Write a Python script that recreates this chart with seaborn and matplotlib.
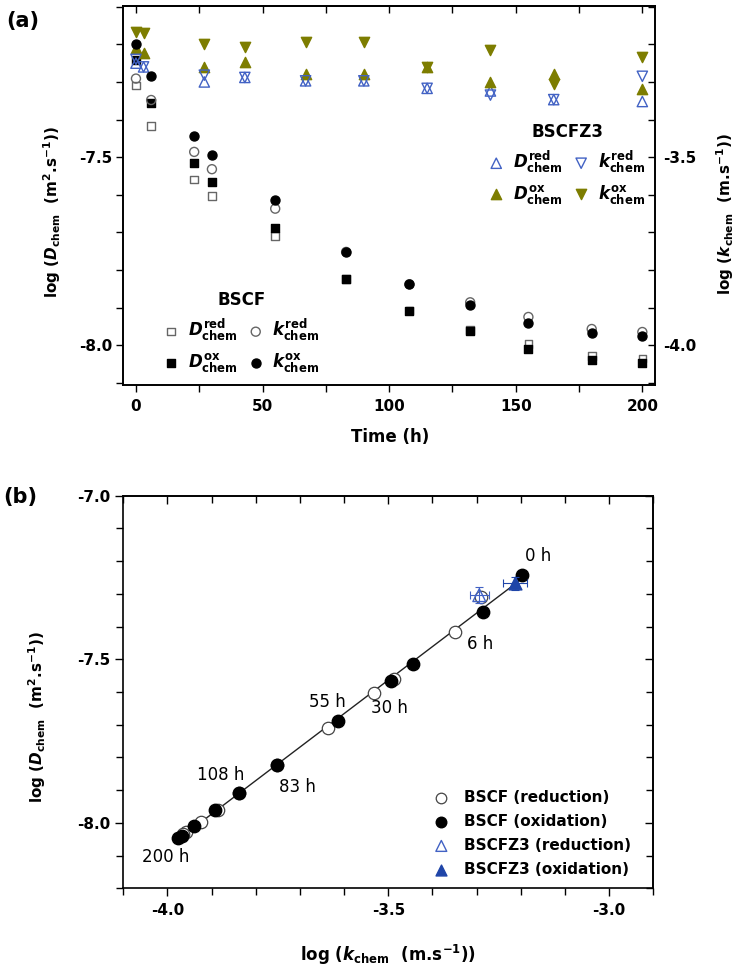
import numpy as np
import pandas as pd
import matplotlib
matplotlib.use("Agg")
import matplotlib.pyplot as plt
import seaborn as sns
from matplotlib.ticker import MultipleLocator, FormatStrFormatter, NullFormatter

# ---------------- data ----------------
bscf_time = [0, 6, 23, 30, 55, 83, 108, 132, 155, 180, 200]
bscf_D_red = [-7.309, -7.417, -7.559, -7.604, -7.709, -7.824, -7.908, -7.960, -7.997, -8.029, -8.035]
bscf_D_ox = [-7.242, -7.357, -7.515, -7.567, -7.688, -7.824, -7.910, -7.962, -8.011, -8.040, -8.047]
bscf_k_red = [-3.291, -3.348, -3.486, -3.532, -3.637, -3.752, -3.838, -3.886, -3.925, -3.957, -3.965]
bscf_k_ox = [-3.198, -3.285, -3.443, -3.495, -3.614, -3.752, -3.838, -3.892, -3.941, -3.968, -3.976]

bscfz3_time = [0, 3, 27, 43, 67, 90, 115, 140, 165, 200]
bscfz3_D_red = [-7.250, -7.260, -7.300, -7.288, -7.297, -7.297, -7.317, -7.324, -7.347, -7.352]
bscfz3_k_red = [-3.240, -3.260, -3.282, -3.288, -3.297, -3.297, -3.317, -3.335, -3.347, -3.285]
bscfz3_D_ox = [-7.211, -7.222, -7.260, -7.247, -7.279, -7.279, -7.260, -7.300, -7.279, -7.320]
bscfz3_k_ox = [-3.167, -3.171, -3.200, -3.207, -3.193, -3.193, -3.260, -3.215, -3.306, -3.233]

# panel (b) BSCFZ3 averaged points with error bars
z3_mean_k = [-3.294, -3.213]
z3_mean_D = [-7.304, -7.268]
z3_err_k = [0.022, 0.028]
z3_err_D = [0.025, 0.020]

# panel (b) time annotations
ann_text = ["0 h", "6 h", "55 h", "30 h", "108 h", "83 h", "200 h"]
ann_k = [-3.160, -3.292, -3.639, -3.498, -3.880, -3.706, -4.005]
ann_D = [-7.184, -7.454, -7.632, -7.649, -7.853, -7.890, -8.104]

# ---------------- style ----------------
sns.set_style("ticks")
plt.rcParams["font.family"] = ["DejaVu Sans"]
plt.rcParams["font.weight"] = "bold"
plt.rcParams["axes.labelweight"] = "bold"
plt.rcParams["axes.unicode_minus"] = False
plt.rcParams["mathtext.fontset"] = "custom"
plt.rcParams["mathtext.rm"] = "DejaVu Sans:bold"
plt.rcParams["mathtext.it"] = "DejaVu Sans:italic:bold"
plt.rcParams["mathtext.bf"] = "DejaVu Sans:bold"
plt.rcParams["axes.linewidth"] = 1.2
for key in ["text.color", "axes.labelcolor", "xtick.color", "ytick.color", "axes.edgecolor"]:
    plt.rcParams[key] = "black"

OLIVE = "#7d7d00"
BLUE_OPEN = "#4262c4"
BLUE_FILL = "#1f45a8"
GRAY = "#666666"

W, H = 740, 976
fig = plt.figure(figsize=(W / 100, H / 100), dpi=100)


def rect(l, t, r, b):
    return [l / W, 1 - b / H, (r - l) / W, (b - t) / H]


def ftext(x, y, s, **kw):
    fig.text(x / W, 1 - y / H, s, **kw)


TICK_FS = 11

# ---------------- panel (a) ----------------
ax = fig.add_axes(rect(123.3, 6, 655, 385.4))
axr = ax.twinx()
ylo, yhi = -8.107, -7.098
ax.set_xlim(-5, 205)
ax.set_ylim(ylo, yhi)
axr.set_ylim(ylo + 4.0, yhi + 4.0)


def scat(axis, x, y, marker, s, face, edge, lw=1.0, z=3):
    sns.scatterplot(x=x, y=y, marker=marker, s=s, facecolor=face, edgecolor=edge,
                    linewidth=lw, ax=axis, zorder=z, legend=False)
    return axis.collections[-1]


h_Dr = scat(ax, bscf_time, bscf_D_red, "s", 30, "none", GRAY)
h_Do = scat(ax, bscf_time, bscf_D_ox, "s", 30, "black", "black")
h_zDr = scat(ax, bscfz3_time, bscfz3_D_red, "^", 55, "none", BLUE_OPEN)
h_zDo = scat(ax, bscfz3_time, bscfz3_D_ox, "^", 55, OLIVE, OLIVE)
h_kr = scat(axr, bscf_time, bscf_k_red, "o", 42, "none", GRAY)
h_ko = scat(axr, bscf_time, bscf_k_ox, "o", 42, "black", "black")
h_zkr = scat(axr, bscfz3_time, bscfz3_k_red, "v", 55, "none", BLUE_OPEN)
h_zko = scat(axr, bscfz3_time, bscfz3_k_ox, "v", 55, OLIVE, OLIVE)

ax.xaxis.set_major_locator(MultipleLocator(50))
ax.xaxis.set_minor_locator(MultipleLocator(25))
ax.yaxis.set_major_locator(MultipleLocator(0.5))
ax.yaxis.set_minor_locator(MultipleLocator(0.1))
ax.yaxis.set_major_formatter(FormatStrFormatter("%.1f"))
axr.yaxis.set_major_locator(MultipleLocator(0.5))
axr.yaxis.set_minor_locator(MultipleLocator(0.1))
axr.yaxis.set_major_formatter(FormatStrFormatter("%.1f"))
ax.tick_params(which="both", direction="out", top=False, right=False,
               labelsize=TICK_FS, width=1, length=5)
ax.tick_params(axis="x", pad=5)
ax.tick_params(axis="y", pad=3)
axr.tick_params(which="both", direction="in", labelsize=TICK_FS, width=1, length=5, pad=5.5)
axr.tick_params(axis="x", bottom=False, top=False, labelbottom=False)
for t in ax.get_xticklabels() + ax.get_yticklabels() + axr.get_yticklabels():
    t.set_fontweight("bold")
ax.set_xlabel("")
ax.set_ylabel("")
axr.set_ylabel("")

secx = ax.secondary_xaxis("top")
secx.xaxis.set_major_locator(MultipleLocator(50))
secx.xaxis.set_minor_locator(MultipleLocator(25))
secx.xaxis.set_major_formatter(NullFormatter())
secx.tick_params(which="both", direction="in", length=5, width=1)

Dred = r"$\mathit{D}^{\mathrm{red}}_{\mathrm{chem}}$"
Dox = r"$\mathit{D}^{\mathrm{ox}}_{\mathrm{chem}}$"
kred = r"$\mathit{k}^{\mathrm{red}}_{\mathrm{chem}}$"
kox = r"$\mathit{k}^{\mathrm{ox}}_{\mathrm{chem}}$"

leg_kw = dict(ncol=2, loc="center", frameon=False, prop={"size": 12, "weight": "bold"},
              title_fontproperties={"size": 12, "weight": "bold"},
              handlelength=0.8, handletextpad=0.6, columnspacing=0.7, labelspacing=0.48,
              borderpad=0.2)
leg1 = axr.legend(handles=[h_Dr, h_Do, h_kr, h_ko], labels=[Dred, Dox, kred, kox],
                  title="BSCF", bbox_to_anchor=(0.223, 0.139), **leg_kw)
axr.add_artist(leg1)
leg2 = axr.legend(handles=[h_zDr, h_zDo, h_zkr, h_zko], labels=[Dred, Dox, kred, kox],
                  title="BSCFZ3", bbox_to_anchor=(0.835, 0.583), **leg_kw)

# ---------------- panel (b) ----------------
axb = fig.add_axes(rect(123.3, 495.7, 653.3, 888.3))
axb.set_xlim(-4.1, -2.9)
axb.set_ylim(-8.2, -7.0)

fit_df = pd.DataFrame({"k": bscf_k_red + bscf_k_ox, "D": bscf_D_red + bscf_D_ox})
sns.regplot(data=fit_df, x="k", y="D", scatter=False, ci=None, color="#222222",
            line_kws={"lw": 1.0, "zorder": 2}, ax=axb)

hb_r = scat(axb, bscf_k_red, bscf_D_red, "o", 80, "white", "#444444", lw=0.9, z=3)
hb_o = scat(axb, bscf_k_ox, bscf_D_ox, "o", 80, "black", "black", z=4)

axb.errorbar(z3_mean_k[0], z3_mean_D[0], xerr=z3_err_k[0], yerr=z3_err_D[0], fmt="none",
             ecolor=BLUE_OPEN, elinewidth=0.8, capsize=3, capthick=0.8, zorder=5)
axb.errorbar(z3_mean_k[1], z3_mean_D[1], xerr=z3_err_k[1], yerr=z3_err_D[1], fmt="none",
             ecolor=BLUE_FILL, elinewidth=0.8, capsize=3, capthick=0.8, zorder=5)
hb_zr = scat(axb, [z3_mean_k[0]], [z3_mean_D[0]], "^", 85, "none", BLUE_OPEN, lw=1.0, z=6)
hb_zo = scat(axb, [z3_mean_k[1]], [z3_mean_D[1]], "^", 85, BLUE_FILL, BLUE_FILL, z=6)

for s_, kx, dy in zip(ann_text, ann_k, ann_D):
    axb.text(kx, dy, s_, ha="center", va="center", fontsize=12, fontweight="normal")

axb.xaxis.set_major_locator(MultipleLocator(0.5))
axb.xaxis.set_minor_locator(MultipleLocator(0.1))
axb.yaxis.set_major_locator(MultipleLocator(0.5))
axb.yaxis.set_minor_locator(MultipleLocator(0.1))
axb.xaxis.set_major_formatter(FormatStrFormatter("%.1f"))
axb.yaxis.set_major_formatter(FormatStrFormatter("%.1f"))
axb.tick_params(which="both", direction="out", top=False, right=False,
                labelsize=TICK_FS, width=1)
axb.tick_params(axis="x", pad=4.5)
axb.tick_params(axis="y", pad=3)
axb.tick_params(which="major", length=6)
axb.tick_params(which="minor", length=5)
for t in axb.get_xticklabels() + axb.get_yticklabels():
    t.set_fontweight("bold")
axb.set_xlabel("")
axb.set_ylabel("")

secbx = axb.secondary_xaxis("top")
secbx.xaxis.set_major_locator(MultipleLocator(0.5))
secbx.xaxis.set_minor_locator(MultipleLocator(0.1))
secbx.xaxis.set_major_formatter(NullFormatter())
secbx.tick_params(which="major", direction="in", length=6, width=1)
secbx.tick_params(which="minor", direction="in", length=5, width=1)
secby = axb.secondary_yaxis("right")
secby.yaxis.set_major_locator(MultipleLocator(0.5))
secby.yaxis.set_minor_locator(MultipleLocator(0.1))
secby.yaxis.set_major_formatter(NullFormatter())
secby.tick_params(which="major", direction="in", length=6, width=1)
secby.tick_params(which="minor", direction="in", length=5, width=1)

axb.legend(handles=[hb_r, hb_o, hb_zr, hb_zo],
           labels=["BSCF (reduction)", "BSCF (oxidation)", "BSCFZ3 (reduction)", "BSCFZ3 (oxidation)"],
           loc="center", bbox_to_anchor=(0.772, 0.140), frameon=False, markerscale=0.85,
           prop={"size": 11, "weight": "bold"}, handlelength=1.0, handletextpad=1.0,
           labelspacing=0.6, borderpad=0.2)

# ---------------- labels ----------------
ylab_D = r"log ($\mathit{D}_{\mathrm{chem}}$  (m$^{\mathrm{2}}$.s$^{\mathrm{-1}}$))"
ylab_k = r"log ($\mathit{k}_{\mathrm{chem}}$  (m.s$^{\mathrm{-1}}$))"
ftext(52, 212, ylab_D, rotation=90, ha="center", va="center", fontsize=11, fontweight="bold")
ftext(725, 214, ylab_k, rotation=90, ha="center", va="center", fontsize=11, fontweight="bold")
ftext(390, 437, "Time (h)", ha="center", va="center", fontsize=12, fontweight="bold")
ftext(37, 717, ylab_D, rotation=90, ha="center", va="center", fontsize=11, fontweight="bold")
ftext(388, 955, ylab_k, ha="center", va="center", fontsize=12, fontweight="bold")
ftext(23, 21, "(a)", ha="center", va="center", fontsize=15, fontweight="bold")
ftext(20, 497, "(b)", ha="center", va="center", fontsize=15, fontweight="bold")

fig.savefig("out.png", dpi=100)
